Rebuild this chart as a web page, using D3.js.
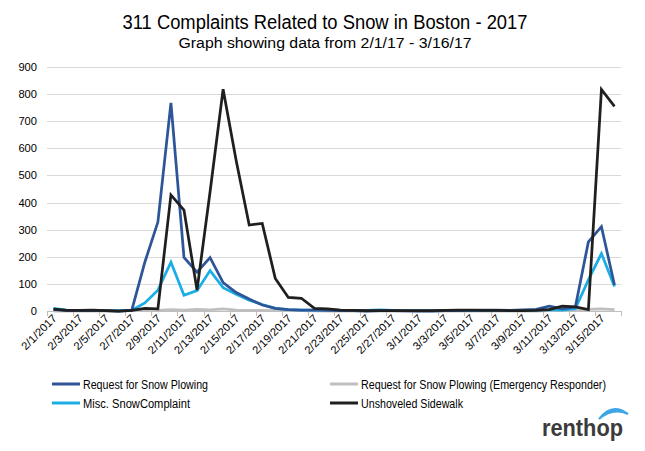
<!DOCTYPE html>
<html>
<head>
<meta charset="utf-8">
<script src="https://cdn.jsdelivr.net/npm/d3@7"></script>
<style>
  html, body { margin: 0; padding: 0; background: #fff; }
  svg { display: block; font-family: "Liberation Sans", Arial, sans-serif; }
</style>
</head>
<body>
<svg id="chart" width="645" height="451"></svg>
<script>
// 311 snow complaints, Boston, 2/1/17 - 3/16/17

const dates = [
  '2/1/2017','2/2/2017','2/3/2017','2/4/2017','2/5/2017','2/6/2017','2/7/2017','2/8/2017',
  '2/9/2017','2/10/2017','2/11/2017','2/12/2017','2/13/2017','2/14/2017','2/15/2017','2/16/2017',
  '2/17/2017','2/18/2017','2/19/2017','2/20/2017','2/21/2017','2/22/2017','2/23/2017','2/24/2017',
  '2/25/2017','2/26/2017','2/27/2017','2/28/2017','3/1/2017','3/2/2017','3/3/2017','3/4/2017',
  '3/5/2017','3/6/2017','3/7/2017','3/8/2017','3/9/2017','3/10/2017','3/11/2017','3/12/2017',
  '3/13/2017','3/14/2017','3/15/2017','3/16/2017'
];

const plowing = [5,2,1,2,1,0,3,180,328,768,198,143,197,105,68,44,22,10,5,3,3,2,1,1,0,1,1,0,0,0,1,1,2,3,3,2,4,6,18,8,15,255,311,96];
const plowingEmergency = [0,0,0,0,0,0,1,2,2,5,3,6,4,8,3,2,2,1,1,1,0,0,0,0,0,0,0,0,0,0,0,0,0,0,0,0,0,0,1,2,3,6,8,5];
const miscSnow = [10,3,2,2,1,1,3,30,77,180,58,75,149,86,62,40,24,10,5,3,3,5,2,1,2,4,2,1,1,1,1,1,1,1,2,2,1,3,5,3,8,115,212,90];
const sidewalk = [7,2,2,3,1,0,2,10,8,428,372,77,440,818,555,317,323,120,50,47,10,8,3,2,1,1,1,1,1,1,2,3,3,2,2,1,1,2,5,18,15,5,817,755];

const yTicks = [0,100,200,300,400,500,600,700,800,900];

const series = [
  { name: 'Request for Snow Plowing (Emergency Responder)', values: plowingEmergency, color: '#bfbfbf' },
  { name: 'Misc. Snow Complaint', values: miscSnow, color: '#1aaee5' },
  { name: 'Request for Snow Plowing', values: plowing, color: '#2e5597' },
  { name: 'Unshoveled Sidewalk', values: sidewalk, color: '#1f1f1f' }
];

const svg = d3.select('#chart');

// -----------------------------------------------------------------------------
// TITLES
// -----------------------------------------------------------------------------

svg.append('text')
  .attr('x', 325).attr('y', 29)
  .attr('text-anchor', 'middle')
  .attr('font-size', 20).attr('fill', '#000')
  .attr('textLength', 405).attr('lengthAdjust', 'spacingAndGlyphs')
  .text('311 Complaints Related to Snow in Boston - 2017');

svg.append('text')
  .attr('x', 325).attr('y', 48)
  .attr('text-anchor', 'middle')
  .attr('font-size', 15.5).attr('fill', '#000')
  .attr('textLength', 293).attr('lengthAdjust', 'spacingAndGlyphs')
  .text('Graph showing data from 2/1/17 - 3/16/17');

// -----------------------------------------------------------------------------
// SCALES + AXES
// -----------------------------------------------------------------------------

const x = d3.scaleBand().domain(dates).range([47, 621]);
const y = d3.scaleLinear().domain([0, 900]).range([311, 67]);
const cx = d => x(d) + x.bandwidth() / 2;

// gridlines
svg.append('g')
  .selectAll('line')
  .data(yTicks.filter(t => t > 0))
  .join('line')
  .attr('x1', 47).attr('x2', 621)
  .attr('y1', d => Math.round(y(d)) + 0.5).attr('y2', d => Math.round(y(d)) + 0.5)
  .attr('stroke', '#d9d9d9').attr('stroke-width', 1);

// y labels
svg.append('g')
  .selectAll('text')
  .data(yTicks)
  .join('text')
  .attr('x', 37).attr('y', d => y(d) + 4)
  .attr('text-anchor', 'end')
  .attr('font-size', 11).attr('fill', '#000')
  .attr('textLength', d => String(d).length * 6.2).attr('lengthAdjust', 'spacingAndGlyphs')
  .text(d => d);

// x axis line + ticks at every other category boundary
svg.append('line')
  .attr('x1', 47).attr('x2', 621)
  .attr('y1', 311.5).attr('y2', 311.5)
  .attr('stroke', '#bfbfbf');

const labelDates = dates.filter((d, i) => i % 2 === 0);

svg.append('g')
  .selectAll('line')
  .data(labelDates.concat(['end']))
  .join('line')
  .attr('x1', d => Math.round(d === 'end' ? 621 : x(d)) + 0.5)
  .attr('x2', d => Math.round(d === 'end' ? 621 : x(d)) + 0.5)
  .attr('y1', 311).attr('y2', 316)
  .attr('stroke', '#bfbfbf');

svg.append('g')
  .selectAll('text')
  .data(labelDates)
  .join('text')
  .attr('transform', d => `translate(${cx(d) + 4},${319}) rotate(-45)`)
  .attr('text-anchor', 'end')
  .attr('font-size', 11).attr('fill', '#000')
  .attr('textLength', d => d.length * 5.6).attr('lengthAdjust', 'spacingAndGlyphs')
  .text(d => d);

// -----------------------------------------------------------------------------
// LINES
// -----------------------------------------------------------------------------

const line = d3.line()
  .x((v, i) => cx(dates[i]))
  .y(v => y(v));

svg.append('g')
  .selectAll('path')
  .data(series)
  .join('path')
  .attr('d', s => line(s.values))
  .attr('fill', 'none')
  .attr('stroke', s => s.color)
  .attr('stroke-width', 2.75)
  .attr('stroke-linejoin', 'miter');

// -----------------------------------------------------------------------------
// LEGEND
// -----------------------------------------------------------------------------

const legendItems = [
  { s: series[2], x: 52, y: 384, w: 125, label: 'Request for Snow Plowing' },
  { s: series[0], x: 330, y: 384, w: 245, label: 'Request for Snow Plowing (Emergency Responder)' },
  { s: series[1], x: 52, y: 403, w: 107, label: 'Misc. SnowComplaint' },
  { s: series[3], x: 330, y: 403, w: 102, label: 'Unshoveled Sidewalk' }
];

const lg = svg.append('g').selectAll('g').data(legendItems).join('g')
  .attr('transform', d => `translate(${d.x},${d.y})`);

lg.append('line')
  .attr('x1', 0).attr('x2', 28).attr('y1', 0).attr('y2', 0)
  .attr('stroke', d => d.s.color).attr('stroke-width', 3);

lg.append('text')
  .attr('x', 31).attr('y', 4.5)
  .attr('font-size', 12).attr('fill', '#000')
  .attr('textLength', d => d.w).attr('lengthAdjust', 'spacingAndGlyphs')
  .text(d => d.label);

// -----------------------------------------------------------------------------
// LOGO
// -----------------------------------------------------------------------------

svg.append('text')
  .attr('x', 542).attr('y', 436)
  .attr('font-size', 24).attr('font-weight', 'bold').attr('fill', '#3b3b3b')
  .attr('textLength', 81).attr('lengthAdjust', 'spacingAndGlyphs')
  .text('renthop');

svg.append('path')
  .attr('d', 'M599,419 Q612,402 628,414 Q613,407 599,419 Z')
  .attr('fill', '#3fa6e6').attr('stroke', '#3fa6e6').attr('stroke-width', 2);
</script>
</body>
</html>
